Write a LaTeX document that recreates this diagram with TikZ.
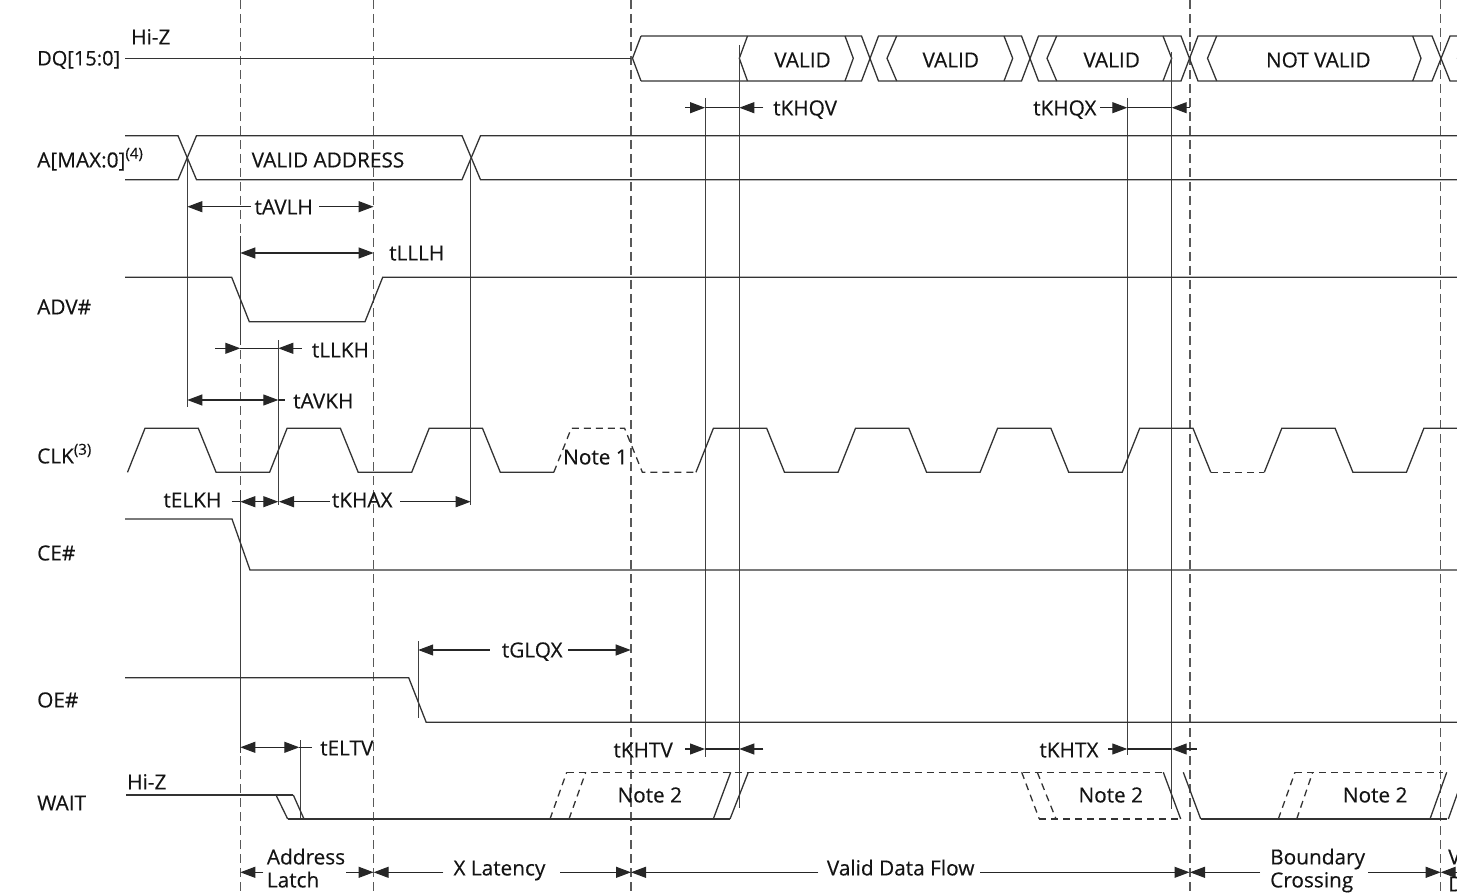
\documentclass[tikz,border=0pt]{standalone}
\usepackage{fontspec}
\setmainfont[FakeBold=0.35]{Open Sans}
\usetikzlibrary{arrows.meta}
\newcommand{\tmsup}[1]{\raisebox{0.42em}{\fontsize{15}{15}\selectfont #1}}
\begin{document}
\begin{tikzpicture}[x=1pt,y=-1pt,
  wave/.style={line width=1.3pt, draw=black!80, line join=miter},
  dwave/.style={wave, dash pattern=on 7pt off 5pt},
  guide/.style={line width=1.3pt, draw=black!65, dash pattern=on 9pt off 5pt},
  vline/.style={line width=1pt, draw=black!75},
  tmdim/.style={line width=1.1pt, draw=black!85},
  tmarrow/.style={-{Triangle[length=15pt,width=11pt]}},
  tmdbl/.style={{Triangle[length=15pt,width=11pt]}-{Triangle[length=15pt,width=11pt]}},
  lbl/.style={inner sep=0pt, anchor=west, text=black!92, font=\fontsize{20.8}{24}\selectfont, text height=14.8pt, text depth=0pt},
]
\useasboundingbox (0,0) rectangle (1457,896);
\clip (0,0) rectangle (1457,896);

% dashed guides
\foreach \gx in {240.3,373.6,631,1190,1440.7} \draw[guide] (\gx,0) -- (\gx,896);

% signal labels
\node[lbl,font=\fontsize{20}{23}\selectfont] (lDQ) at (37,58) {DQ[15:0]};
\node[lbl] (lA) at (37,160) {A[MAX:0]\tmsup{(4)}};
\node[lbl] (lADV) at (37,307) {ADV\#};
\node[lbl] (lCLK) at (37,456) {CLK\tmsup{(3)}};
\node[lbl] (lCE) at (37,553) {CE\#};
\node[lbl] (lOE) at (37,700) {OE\#};
\node[lbl] (lWAIT) at (37,803) {WAIT};

% ---------- DQ ----------
\node[lbl] (hiz1) at (131,37) {Hi-Z};
\draw[wave] (125,58.3) -- (631,58.3);
\draw[wave] (641,36) -- (632.5,58.3) -- (641,81);
\draw[wave] (641,36) -- (861.5,36) -- (878.5,81) -- (1021.5,81) -- (1038.5,36) -- (1181,36) -- (1198,81) -- (1432,81) -- (1450,36) -- (1460,36);
\draw[wave] (641,81) -- (861.5,81) -- (878.5,36) -- (1021.5,36) -- (1038.5,81) -- (1181,81) -- (1198,36) -- (1432,36) -- (1450,81) -- (1460,81);
\draw[wave] (747.5,36) -- (739.3,58.3) -- (747.5,81);
\draw[wave] (845,36) -- (853.3,58.3) -- (845,81);
\draw[wave] (896.7,36) -- (887,58.3) -- (896.7,81);
\draw[wave] (1004,36) -- (1012.7,58.3) -- (1004,81);
\draw[wave] (1056.7,36) -- (1047,58.3) -- (1056.7,81);
\draw[wave] (1163,36) -- (1171.7,58.3) -- (1163,81);
\draw[wave] (1216.7,36) -- (1207.5,58.3) -- (1216.7,81);
\draw[wave] (1412.7,36) -- (1421,58.3) -- (1412.7,81);
\draw[wave] (1466,36) -- (1457.5,58.3) -- (1466,81);
\node[lbl,anchor=center] (v1) at (802.5,60) {VALID};
\node[lbl,anchor=center] (v2) at (950.8,60) {VALID};
\node[lbl,anchor=center] (v3) at (1111.7,60) {VALID};
\node[lbl,anchor=center] (nv) at (1318.3,60) {NOT VALID};

% tKHQV / tKHQX
\draw[vline] (705,98) -- (705,757);
\draw[vline] (739.3,45) -- (739.3,808);
\draw[vline] (1127.3,98) -- (1127.3,755);
\draw[vline] (1171.7,52) -- (1171.7,809);
\draw[tmdim,tmarrow] (685,107.7) -- (705,107.7);
\draw[tmdim] (705,107.7) -- (739.3,107.7);
\draw[tmdim,tmarrow] (763.3,107.7) -- (739.3,107.7);
\node[lbl] (tkhqv) at (773,108) {tKHQV};
\node[lbl] (tkhqx) at (1033,108) {tKHQX};
\draw[tmdim,tmarrow] (1100,107.7) -- (1127.3,107.7);
\draw[tmdim] (1127.3,107.7) -- (1171.7,107.7);
\draw[tmdim,tmarrow] (1190,107.7) -- (1171.7,107.7);

% ---------- A ----------
\draw[wave] (125,135.7) -- (178,135.7) -- (196.5,179.7) -- (462,179.7) -- (480.5,135.7) -- (1460,135.7);
\draw[wave] (125,179.7) -- (178,179.7) -- (196.5,135.7) -- (462,135.7) -- (480.5,179.7) -- (1460,179.7);
\node[lbl] (va) at (251.5,160) {VALID ADDRESS};
\draw[vline] (187.3,157.7) -- (187.3,406.7);
\draw[vline] (470.7,157.7) -- (470.7,505);

% tAVLH
\draw[tmdim,tmarrow] (250.5,206.7) -- (187.3,206.7);
\draw[tmdim,tmarrow] (319,206.7) -- (373.6,206.7);
\node[lbl] (tavlh) at (254.4,207) {tAVLH};

% tLLLH
\draw[vline] (240.3,236) -- (240.3,345);
\draw[tmdim,tmdbl] (240.3,253) -- (373.6,253);
\node[lbl] (tlllh) at (389,253) {tLLLH};

% ---------- ADV# ----------
\draw[wave] (125,277.3) -- (231.7,277.3) -- (249.3,321.7) -- (365,321.7) -- (382.7,277.3) -- (1460,277.3);

% tLLKH
\draw[vline] (278.3,340) -- (278.3,505);
\draw[tmdim,tmarrow] (215,348.3) -- (240.3,348.3);
\draw[tmdim] (240.3,348.3) -- (278.3,348.3);
\draw[tmdim,tmarrow] (301.7,348.3) -- (278.3,348.3);
\node[lbl] (tllkh) at (311.7,350) {tLLKH};

% tAVKH
\draw[tmdim,tmdbl] (187.3,400) -- (278.3,400);
\draw[tmdim] (278.3,400) -- (285,400);
\node[lbl] (tavkh) at (293,401) {tAVKH};

% ---------- CLK ----------
\draw[wave] (127.5,472.3) -- (145,428.3) -- (198.3,428.3) -- (216.1,472.3)
  -- (269.6,472.3) -- (287.1,428.3) -- (340.4,428.3) -- (358.2,472.3)
  -- (411.7,472.3) -- (429.2,428.3) -- (482.5,428.3) -- (500.3,472.3)
  -- (553.8,472.3);
\draw[dwave] (553.8,472.3) -- (571.3,428.3) -- (624.6,428.3) -- (642.4,472.3) -- (695.9,472.3);
\draw[wave] (695.9,472.3) -- (713.4,428.3) -- (766.7,428.3) -- (784.5,472.3)
  -- (838,472.3) -- (855.5,428.3) -- (908.8,428.3) -- (926.6,472.3)
  -- (980.1,472.3) -- (997.6,428.3) -- (1050.9,428.3) -- (1068.7,472.3)
  -- (1122.2,472.3) -- (1139.7,428.3) -- (1193,428.3) -- (1210.8,472.3);
\draw[dwave] (1210.8,472.3) -- (1264.3,472.3);
\draw[wave] (1264.3,472.3) -- (1281.8,428.3) -- (1335.1,428.3) -- (1352.9,472.3)
  -- (1406.4,472.3) -- (1423.9,428.3) -- (1460,428.3);
\node[lbl] (note1) at (563,457) {Note 1};

% tELKH / tKHAX
\draw[vline] (240.3,490) -- (240.3,753);
\node[lbl] (telkh) at (163.3,500) {tELKH};
\draw[tmdim] (231.7,501.7) -- (240.3,501.7);
\draw[tmdim,tmdbl] (240.3,501.7) -- (278.3,501.7);
\draw[tmdim,tmarrow] (330,501.7) -- (279,501.7);
\draw[tmdim,tmarrow] (400,501.7) -- (470.7,501.7);
\node[lbl] (tkhax) at (331.7,500) {tKHAX};

% ---------- CE# ----------
\draw[wave] (125,519) -- (232,519) -- (250,570) -- (1460,570);

% ---------- OE# ----------
\draw[wave] (125,677.7) -- (408.7,677.7) -- (426.2,722.3) -- (1460,722.3);
\draw[vline] (418.2,641) -- (418.2,718.3);
\draw[tmdim,tmarrow] (489.5,650) -- (418.2,650);
\draw[tmdim,tmarrow] (568.4,650) -- (630.7,650);
\node[lbl] (tglqx) at (501.7,650) {tGLQX};

% tELTV
\draw[vline] (300,740) -- (300,819);
\draw[tmdim,tmdbl] (240.3,747.3) -- (299.3,747.3);
\draw[tmdim] (299.3,747.3) -- (311.7,747.3);
\node[lbl] (teltv) at (320,748) {tELTV};

% tKHTV / tKHTX
\node[lbl] (tkhtv) at (613.3,750) {tKHTV};
\draw[tmdim,tmarrow] (685,749) -- (705,749);
\draw[tmdim] (705,749) -- (739.3,749);
\draw[tmdim,tmarrow] (763.3,749) -- (739.3,749);
\node[lbl] (tkhtx) at (1039.3,750) {tKHTX};
\draw[tmdim,tmarrow] (1108.3,749) -- (1127.3,749);
\draw[tmdim] (1127.3,749) -- (1171.7,749);
\draw[tmdim,tmarrow] (1196.7,749) -- (1171.7,749);

% ---------- WAIT ----------
\node[lbl] (hiz2) at (127,782) {Hi-Z};
\draw[wave] (126,795) -- (293.3,795);
\draw[wave] (276,795) -- (287.7,819);
\draw[wave] (293.3,795) -- (304,819);
\draw[wave] (287.7,819) -- (730,819);
\draw[wave] (713.3,819) -- (730.7,772.3);
\draw[wave] (730,819) -- (748.3,772.3);
\draw[dwave] (566.7,772.3) -- (1163.3,772.3);
\draw[dwave] (550,819) -- (566.7,772.3);
\draw[dwave] (569,819) -- (585.7,772.3);
\draw[dwave] (1021.7,772.3) -- (1039.3,819);
\draw[dwave] (1037.3,772.3) -- (1056,819);
\draw[dwave] (1039.3,819) -- (1180.7,819);
\draw[wave] (1163.3,772.3) -- (1180.7,819);
\draw[wave] (1183.3,772.3) -- (1200.7,819);
\draw[wave] (1200.7,819) -- (1447,819);
\draw[dwave] (1278.3,819) -- (1295,772.3);
\draw[dwave] (1296.7,819) -- (1312.7,772.3);
\draw[dwave] (1295,772.3) -- (1443.3,772.3);
\draw[wave] (1430,819) -- (1446.7,772.3);
\draw[wave] (1448.3,819) -- (1465,772.3);
\node[lbl] (n2a) at (617.3,795) {Note 2};
\node[lbl] (n2b) at (1078.3,795) {Note 2};
\node[lbl] (n2c) at (1342.7,795) {Note 2};

% ---------- bottom phases ----------
\draw[tmdim,tmarrow] (263.3,872.3) -- (240.3,872.3);
\draw[tmdim,tmarrow] (346,872.3) -- (373.6,872.3);
\node[lbl] (addr1) at (266.7,857) {Address};
\node[lbl] (addr2) at (266.7,880) {Latch};
\draw[tmdim,tmarrow] (443.3,872.3) -- (373.6,872.3);
\node[lbl] (xlat) at (453.3,868) {X Latency};
\draw[tmdim,tmarrow] (560,872.3) -- (631,872.3);
\draw[tmdim,tmarrow] (818.3,872.3) -- (631,872.3);
\node[lbl] (vdf) at (826.7,868) {Valid Data Flow};
\draw[tmdim,tmarrow] (980,872.3) -- (1189.5,872.3);
\draw[tmdim,tmarrow] (1260,872.3) -- (1190,872.3);
\node[lbl] (bc1) at (1270,857) {Boundary};
\node[lbl] (bc2) at (1270,880) {Crossing};
\draw[tmdim,tmarrow] (1368.3,872.3) -- (1440.7,872.3);
\draw[tmdim,tmarrow] (1470,872.3) -- (1440.7,872.3);
\node[lbl] (vd1) at (1448,857) {Valid};
\node[lbl] (vd2) at (1448,884) {Data};
\end{tikzpicture}
\end{document}
